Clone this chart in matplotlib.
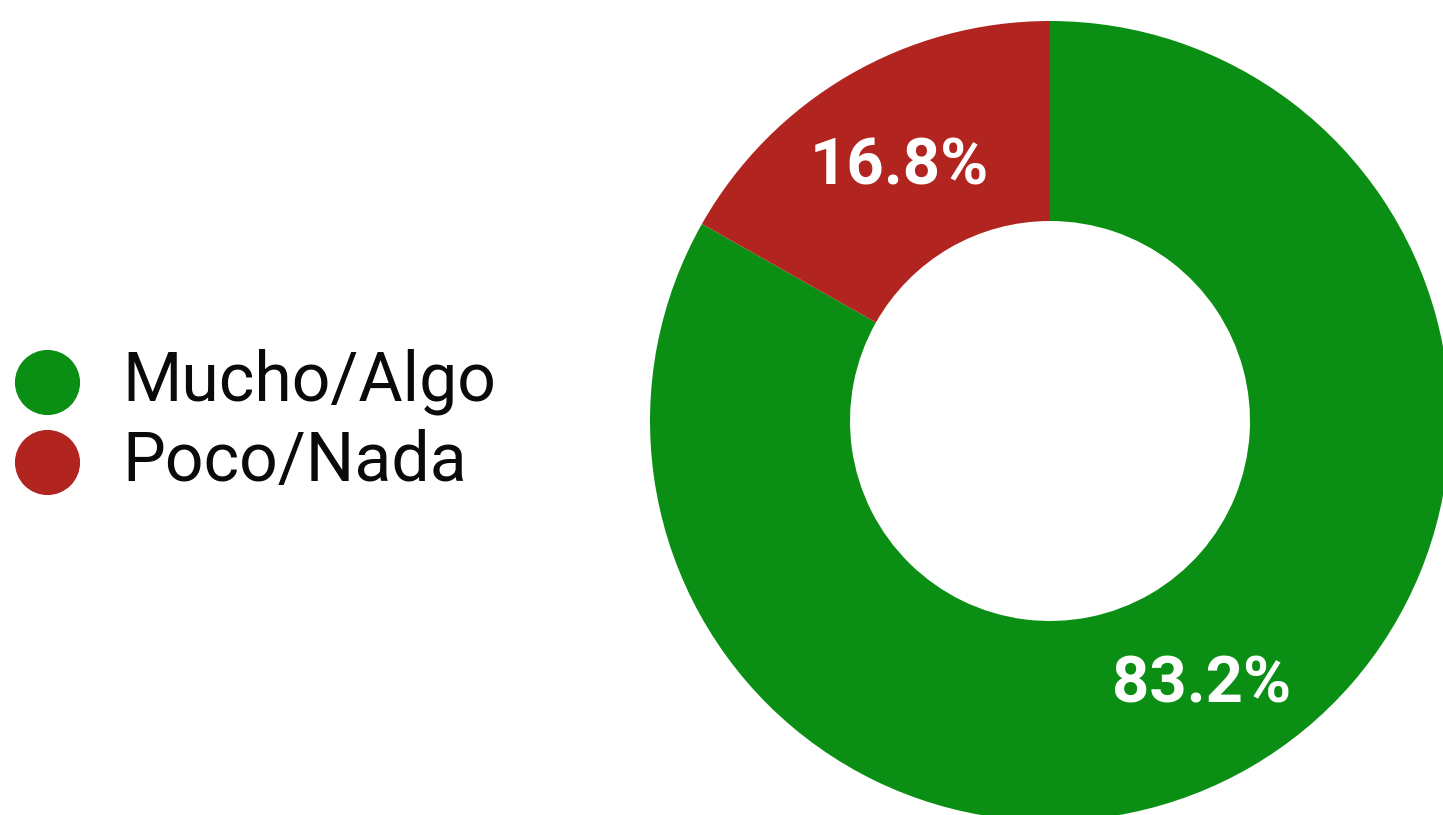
import matplotlib.pyplot as plt

# Data
labels = ["Mucho/Algo", "Poco/Nada"]
values = [83.2, 16.8]
colors = ["#0a8f14", "#b2241f"]

W, H = 1443, 815
fig = plt.figure(figsize=(W / 100, H / 100), dpi=100)
ax = fig.add_axes([0, 0, 1, 1])

# Donut (pixel coordinates, y measured from bottom)
cx, cy, r = 1050, H - 421, 400
wedges, texts, autotexts = ax.pie(
    values, colors=colors, startangle=90, counterclock=False,
    center=(cx, cy), radius=r, autopct="%.1f%%", pctdistance=0.75,
    wedgeprops=dict(width=200, linewidth=0),
    textprops=dict(color="white", fontsize=47, fontweight="bold", family="Roboto"),
)
for t in autotexts:
    t.set_va("center")
    x, y = t.get_position()
    t.set_position((x, y - 5))

# Legend drawn by hand
leg_y = [382, 462]
for lab, col, y in zip(labels, colors, leg_y):
    ax.scatter([47], [H - y], s=2200, color=col, linewidths=0, clip_on=False)
    ax.text(122, H - y, lab, fontsize=49, family="Roboto", color="#0a0a0a",
            va="center", ha="left")

ax.set_xlim(0, W)
ax.set_ylim(0, H)
ax.set_aspect("equal")
ax.axis("off")

plt.savefig("out.png", dpi=100)
